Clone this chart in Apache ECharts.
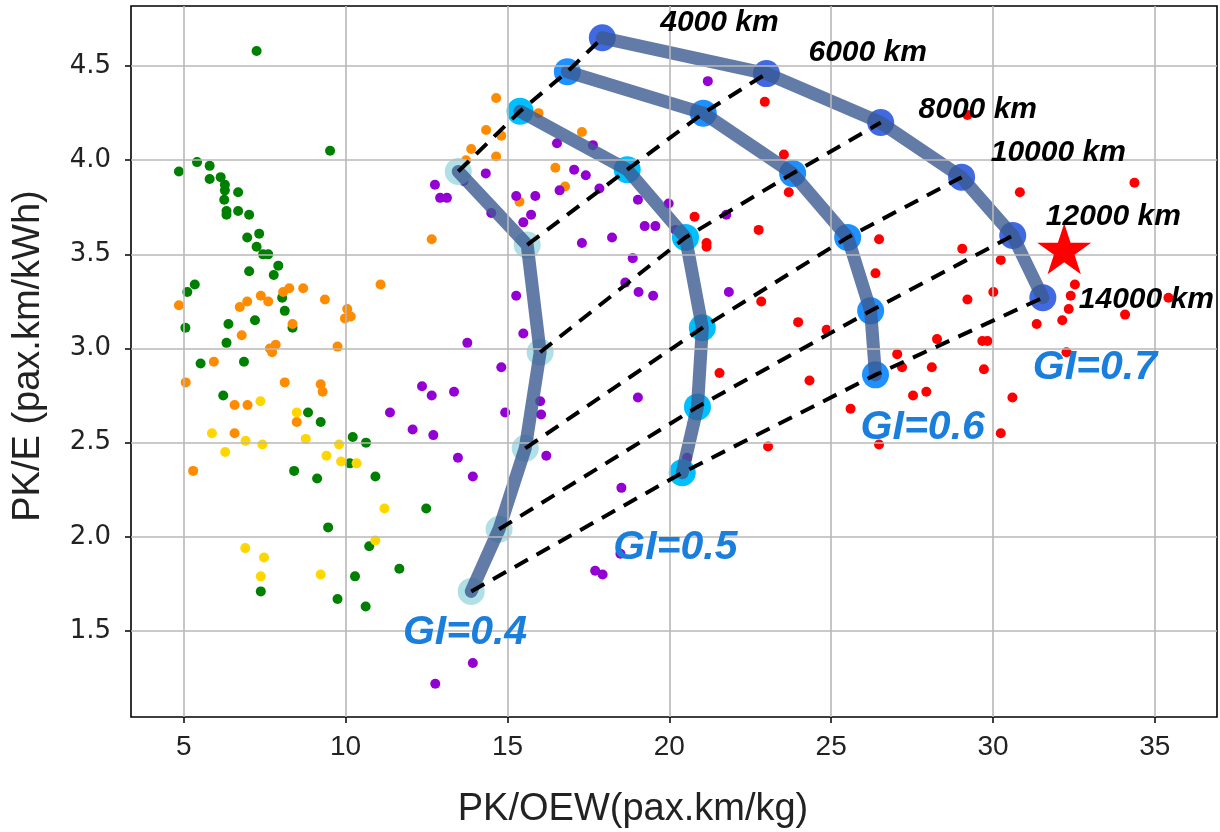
<!DOCTYPE html>
<html><head><meta charset="utf-8">
<script src="https://cdn.jsdelivr.net/npm/echarts@6/dist/echarts.min.js"></script>
<style>html,body{margin:0;padding:0;background:#fff}#c{width:1220px;height:832px}</style>
</head><body><div id="c"></div>
<script>
const xTicks=[5,10,15,20,25,30,35];
const yTicks=[1.5,2.0,2.5,3.0,3.5,4.0,4.5];
const greenPts=[[7.25,4.58],[9.52,4.05],[4.85,3.94],[5.41,3.99],[5.80,3.97],[5.80,3.90],[6.14,3.91],[6.27,3.87],[6.27,3.84],[6.25,3.79],[6.68,3.83],[6.32,3.73],[6.32,3.71],[6.68,3.73],[7.02,3.71],[6.96,3.59],[7.33,3.61],[7.25,3.54],[7.45,3.50],[7.61,3.50],[7.92,3.44],[7.02,3.41],[7.78,3.39],[5.34,3.34],[5.11,3.30],[8.04,3.27],[8.12,3.20],[7.20,3.15],[5.05,3.11],[6.38,3.13],[8.36,3.11],[6.32,3.03],[5.52,2.92],[6.86,2.93],[6.22,2.75],[8.84,2.66],[9.23,2.61],[10.22,2.53],[10.63,2.50],[8.41,2.35],[9.12,2.31],[10.13,2.39],[10.92,2.32],[12.49,2.15],[9.46,2.05],[10.73,1.95],[11.66,1.83],[10.29,1.79],[7.38,1.71],[9.75,1.67],[10.62,1.63]];
const orangePts=[[4.85,3.23],[6.73,3.22],[6.96,3.25],[7.38,3.28],[7.61,3.25],[8.07,3.30],[8.26,3.32],[8.69,3.32],[9.36,3.26],[10.05,3.21],[9.98,3.16],[10.16,3.17],[11.08,3.34],[8.36,3.13],[6.79,3.07],[7.66,3.00],[7.84,3.02],[7.73,2.98],[9.75,3.01],[12.66,3.58],[14.34,4.16],[13.88,4.06],[13.72,4.00],[5.93,2.93],[5.06,2.82],[8.12,2.82],[9.23,2.81],[9.29,2.77],[6.57,2.70],[6.97,2.70],[8.49,2.61],[6.57,2.55],[5.29,2.35],[14.65,4.33],[15.96,4.25],[14.81,4.13],[17.30,4.15],[14.65,4.02],[16.48,3.96],[16.78,3.86],[15.37,3.78]];
const goldPts=[[7.37,2.72],[8.49,2.66],[5.87,2.55],[6.91,2.51],[7.43,2.49],[8.77,2.52],[9.80,2.49],[6.28,2.45],[9.41,2.43],[9.86,2.40],[10.34,2.39],[11.20,2.15],[10.92,1.98],[6.90,1.94],[7.48,1.89],[7.38,1.79],[9.23,1.80]];
const purplePts=[[12.76,3.87],[12.92,3.80],[13.13,3.80],[14.33,3.93],[13.76,3.03],[21.19,4.42],[16.53,4.09],[17.64,4.08],[17.06,3.95],[17.42,3.92],[16.61,3.84],[17.84,3.85],[15.27,3.81],[15.86,3.81],[14.50,3.72],[15.73,3.71],[15.49,3.67],[19.03,3.79],[19.98,3.77],[21.76,3.71],[19.24,3.65],[19.57,3.65],[17.30,3.56],[18.23,3.59],[18.87,3.48],[18.64,3.35],[19.05,3.30],[19.50,3.28],[21.84,3.30],[15.27,3.28],[15.49,3.08],[13.64,3.89],[20.19,3.63],[14.81,2.90],[12.36,2.80],[12.66,2.75],[13.35,2.77],[16.01,2.72],[16.04,2.65],[14.93,2.66],[12.07,2.57],[12.71,2.54],[16.20,2.43],[13.47,2.42],[13.93,2.32],[19.03,2.74],[18.52,2.26],[20.55,2.42],[17.71,1.82],[17.94,1.80],[18.49,1.91],[13.93,1.33],[12.77,1.22],[11.37,2.66]];
const redPts=[[22.95,4.31],[23.54,4.03],[23.69,3.83],[20.78,3.70],[22.76,3.63],[21.15,3.56],[21.15,3.54],[22.84,3.25],[23.98,3.14],[21.55,2.87],[24.33,2.83],[23.05,2.48],[29.21,4.24],[30.83,3.83],[34.37,3.88],[26.48,3.58],[29.05,3.53],[30.24,3.47],[26.37,3.40],[32.53,3.34],[32.40,3.28],[32.34,3.21],[32.14,3.15],[31.35,3.13],[34.08,3.18],[35.42,3.27],[30.01,3.30],[29.21,3.26],[24.86,3.10],[28.27,3.05],[29.67,3.04],[29.83,3.04],[27.04,2.97],[32.27,2.98],[27.19,2.90],[28.11,2.90],[29.72,2.89],[27.53,2.75],[27.94,2.77],[25.60,2.68],[30.60,2.74],[30.24,2.55],[26.48,2.49]];
const gi04=[[13.48,3.94],[15.61,3.55],[16.01,2.98],[15.55,2.47],[14.74,2.04],[13.88,1.71]];
const gi05=[[15.39,4.26],[18.70,3.95],[20.50,3.59],[21.02,3.11],[20.87,2.69],[20.40,2.34]];
const gi06=[[16.85,4.47],[21.05,4.25],[23.81,3.93],[25.51,3.59],[26.22,3.20],[26.37,2.86]];
const gi07=[[17.93,4.65],[23.00,4.46],[26.53,4.20],[29.03,3.91],[30.61,3.60],[31.54,3.27]];
const starPt=[[32.20,3.53]];
const rangeLabels=['4000 km','6000 km','8000 km','10000 km','12000 km','14000 km'];
const rangeLabelPos=[[19.72,4.73],[24.30,4.57],[27.70,4.27],[29.93,4.04],[31.63,3.70],[32.65,3.26]];
const giLabels=['GI=0.4','GI=0.5','GI=0.6','GI=0.7'];
const giLabelPos=[[11.77,1.49],[18.27,1.94],[25.91,2.58],[31.23,2.90]];

const giSets=[gi04,gi05,gi06,gi07];
const giColors=['#b0e0e6','#00bfff','#1e90ff','#4169e1'];
const chart=echarts.init(document.getElementById('c'),null,{renderer:'canvas'});
const series=[];
series.push({type:'scatter',data:[],z:0,silent:true,
  markLine:{silent:true,symbol:['none','none'],label:{show:false},animation:false,
    lineStyle:{color:'#b8b8b8',width:1.6,type:'solid'},
    data:xTicks.map(v=>({xAxis:v})).concat(yTicks.map(v=>({yAxis:v})))}});
const dot=(data,color)=>({type:'scatter',data:data,symbolSize:10,z:2,itemStyle:{color:color,opacity:1},silent:true});
series.push(dot(greenPts,'#008000'),dot(orangePts,'#ff8c00'),dot(goldPts,'#ffd700'),dot(purplePts,'#9400d3'),dot(redPts,'#ff0000'));
giSets.forEach((s,i)=>{
  series.push({type:'scatter',data:s,symbolSize:27,z:3,itemStyle:{color:giColors[i],opacity:1},silent:true});
});
giSets.forEach((s)=>{
  series.push({type:'line',data:s,symbol:'none',z:4,silent:true,
    lineStyle:{color:'rgb(60,90,145)',opacity:0.8,width:13,cap:'round',join:'round'}});
});
for(let k=0;k<gi04.length;k++){
  series.push({type:'line',data:giSets.map(s=>s[k]),symbol:'none',z:5,silent:true,
    lineStyle:{color:'#000',width:4,type:[15,10]}});
}
series.push({type:'scatter',data:starPt,z:6,silent:true,symbol:'path://M50,0 L61.2,34.5 L97.6,34.5 L68.2,55.9 L79.4,90.5 L50,69.1 L20.6,90.5 L31.8,55.9 L2.4,34.5 L38.8,34.5 Z',
  symbolSize:[54,51],itemStyle:{color:'#ff0000',opacity:1}});
series.push({type:'scatter',z:7,silent:true,symbolSize:0,itemStyle:{opacity:1},
  data:rangeLabelPos.map((p,i)=>({value:p,name:rangeLabels[i]})),
  label:{show:true,position:'inside',align:'left',verticalAlign:'middle',formatter:'{b}',opacity:1,
    fontFamily:'Liberation Sans',fontWeight:'bold',fontStyle:'italic',fontSize:30,color:'#000'}});
series.push({type:'scatter',z:7,silent:true,symbolSize:0,itemStyle:{opacity:1},
  data:giLabelPos.map((p,i)=>({value:p,name:giLabels[i]})),
  label:{show:true,position:'inside',align:'left',verticalAlign:'middle',formatter:'{b}',opacity:1,
    fontFamily:'Liberation Sans',fontWeight:'bold',fontStyle:'italic',fontSize:41,color:'#1a7fdc'}});

chart.setOption({
  animation:false,
  backgroundColor:'#fff',
  grid:{left:131,right:3,top:6,bottom:115,show:true,borderColor:'#000',borderWidth:1.6,backgroundColor:'transparent'},
  xAxis:{type:'value',min:3.37,max:36.92,
    axisLine:{show:false},splitLine:{show:false},
    axisTick:{show:true,customValues:xTicks,length:6,lineStyle:{color:'#000',width:1.5}},
    axisLabel:{customValues:xTicks,margin:16,fontFamily:'Liberation Sans',fontSize:28,color:'#222'}},
  yAxis:{type:'value',min:1.043,max:4.819,
    axisLine:{show:false},splitLine:{show:false},
    axisTick:{show:true,customValues:yTicks,length:6,lineStyle:{color:'#000',width:1.5}},
    axisLabel:{customValues:yTicks,margin:20,fontFamily:'DejaVu Sans',fontSize:26,color:'#222',formatter:v=>v.toFixed(1)}},
  graphic:[
    {type:'text',style:{text:'PK/OEW(pax.km/kg)',font:'38px "Liberation Sans"',fill:'#222',textAlign:'center',textVerticalAlign:'middle'},position:[633,810]},
    {type:'text',style:{text:'PK/E (pax.km/kWh)',font:'38px "Liberation Sans"',fill:'#222',textAlign:'center',textVerticalAlign:'middle'},position:[29,356],rotation:Math.PI/2}
  ],
  series:series
});
</script></body></html>
